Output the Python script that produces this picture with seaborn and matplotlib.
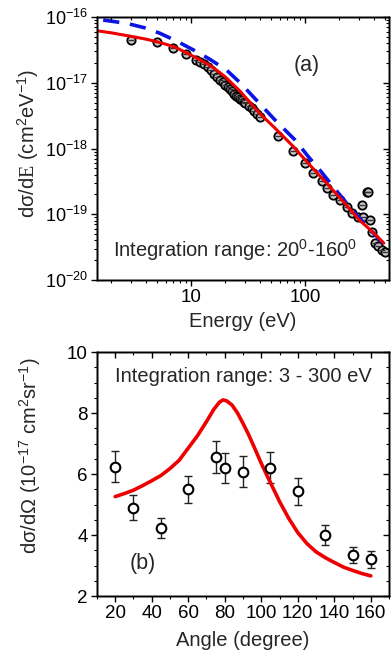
import numpy as np
import pandas as pd
import matplotlib
matplotlib.use("Agg")
import matplotlib.pyplot as plt
import matplotlib.ticker as mticker
import seaborn as sns

# ---------------- data: panel (a) ----------------
exp_energy = [3, 5, 7, 9, 11, 12, 13, 14, 15, 16, 17, 18, 19, 20, 21, 22, 23, 24, 25,
              26, 27, 28, 29, 30, 32, 34, 36, 38, 40, 58, 79, 100, 118, 140, 155, 177,
              203, 232, 257, 294, 314, 325, 348, 359, 371, 384, 411, 440, 471, 503]
exp_dsde = [4.47e-17, 4.12e-17, 3.34e-17, 2.71e-17, 2.22e-17, 2.04e-17, 1.91e-17, 1.74e-17,
            1.58e-17, 1.38e-17, 1.23e-17, 1.10e-17, 1.02e-17, 9.1e-18, 8.5e-18, 7.9e-18,
            7.4e-18, 6.8e-18, 6.3e-18, 6.0e-18, 5.75e-18, 5.4e-18, 5.1e-18, 4.9e-18,
            4.47e-18, 4.07e-18, 3.72e-18, 3.31e-18, 3.02e-18, 1.55e-18, 9.3e-19, 5.96e-19,
            4.17e-19, 3.16e-19, 2.48e-19, 1.95e-19, 1.66e-19, 1.30e-19, 1.04e-19, 9.1e-20,
            1.38e-19, 9.1e-20, 2.19e-19, 2.19e-19, 8.1e-20, 5.43e-20, 3.63e-20, 3.24e-20,
            2.88e-20, 2.69e-20]

red_energy = [1.5, 2.0, 2.9, 4.0, 5.0, 6.2, 7.5, 10.0, 12.0, 14.5, 17.0, 20.0, 27.0, 33.0,
              40.0, 56.0, 79.0, 110.0, 155.0, 220.0, 300.0, 400.0, 490.0]
red_dsde = [6.17e-17, 5.75e-17, 5.13e-17, 4.62e-17, 4.22e-17, 3.80e-17, 3.39e-17, 2.63e-17,
            2.24e-17, 1.86e-17, 1.53e-17, 1.23e-17, 7.41e-18, 5.01e-18, 3.43e-18, 1.95e-18,
            1.07e-18, 5.62e-19, 2.95e-19, 1.51e-19, 8.13e-20, 5.20e-20, 3.63e-20]

blue_energy = [1.7, 2.73, 4.0, 5.35, 7.5, 10.5, 14.5, 20.5, 27.0, 34.0, 54.6, 81.7, 107.0,
               135.0, 265.0, 501.0]
blue_dsde = [8.99e-17, 8.02e-17, 6.80e-17, 5.65e-17, 4.30e-17, 3.16e-17, 2.30e-17, 1.56e-17,
             1.00e-17, 6.52e-18, 2.71e-18, 1.35e-18, 7.5e-19, 4.68e-19, 1.10e-19, 3.39e-20]

# ---------------- data: panel (b) ----------------
exp_angle = [20, 30, 45, 60, 75, 80, 90, 105, 120, 135, 150, 160]
exp_dsdo = [6.24, 4.90, 4.22, 5.50, 6.55, 6.19, 6.08, 6.21, 5.44, 4.00, 3.34, 3.20]
exp_dsdo_err = [0.50, 0.40, 0.33, 0.44, 0.53, 0.49, 0.50, 0.50, 0.44, 0.33, 0.27, 0.27]

red_angle = [20, 25, 30, 35, 40, 45, 50, 55, 60, 65, 70, 74, 77, 79, 81, 84, 87, 90, 93,
             96, 100, 105, 110, 115, 120, 125, 130, 135, 140, 145, 150, 155, 160]
red_dsdo = [5.26, 5.36, 5.47, 5.62, 5.78, 5.95, 6.18, 6.45, 6.85, 7.25, 7.72, 8.12, 8.35,
            8.43, 8.40, 8.26, 8.00, 7.66, 7.30, 6.90, 6.35, 5.72, 5.10, 4.55, 4.08, 3.72,
            3.45, 3.26, 3.10, 2.95, 2.84, 2.74, 2.66]

df_exp_a = pd.DataFrame({"E": exp_energy, "y": exp_dsde})
df_red_a = pd.DataFrame({"E": red_energy, "y": red_dsde})
df_blue_a = pd.DataFrame({"E": blue_energy, "y": blue_dsde})
df_exp_b = pd.DataFrame({"ang": exp_angle, "y": exp_dsdo, "err": exp_dsdo_err})
df_red_b = pd.DataFrame({"ang": red_angle, "y": red_dsdo})

sns.set_theme(style="ticks")
plt.rcParams["font.family"] = ["Liberation Sans", "DejaVu Sans"]
plt.rcParams["mathtext.fontset"] = "custom"
plt.rcParams["mathtext.rm"] = "Liberation Sans"
plt.rcParams["mathtext.it"] = "Liberation Sans:italic"
plt.rcParams["mathtext.tt"] = "Liberation Serif"
plt.rcParams["axes.edgecolor"] = "black"
plt.rcParams["axes.linewidth"] = 1.0

LBL = 14.5
TCK = 13.5
TXT = 14.5

fig = plt.figure(figsize=(3.91, 6.57), dpi=100)
axa = fig.add_axes([0.248, 0.5738, 0.747, 0.4003])
axb = fig.add_axes([0.248, 0.0928, 0.747, 0.3714])

# ---------- panel (a) ----------
axa.set_xscale("log")
axa.set_yscale("log")
sns.scatterplot(data=df_exp_a, x="E", y="y", ax=axa, marker="o", s=36,
                facecolor="#c8c8c8", edgecolor="black", linewidth=1.3, zorder=2, legend=False)
sns.scatterplot(data=df_exp_a, x="E", y="y", ax=axa, marker="_", s=20,
                color="#333333", linewidth=1.0, zorder=2.1, legend=False)
sns.lineplot(data=df_blue_a, x="E", y="y", ax=axa, color="#0a14e6", linewidth=2.6,
             dashes=False, zorder=3, legend=False)
axa.lines[-1].set_dashes([4.5, 3])
sns.lineplot(data=df_red_a, x="E", y="y", ax=axa, color="#ee0000", linewidth=2.2,
             zorder=4, legend=False)
axa.set_xlim(1.5, 545)
axa.set_ylim(1e-20, 1e-16)
axa.xaxis.set_major_locator(mticker.LogLocator(base=10, numticks=10))
axa.xaxis.set_minor_locator(mticker.LogLocator(base=10, subs=np.arange(2, 10), numticks=10))
axa.xaxis.set_major_formatter(mticker.FuncFormatter(lambda v, p: f"{v:g}"))
axa.xaxis.set_minor_formatter(mticker.NullFormatter())
axa.yaxis.set_major_locator(mticker.LogLocator(base=10, numticks=10))
axa.yaxis.set_minor_locator(mticker.LogLocator(base=10, subs=np.arange(2, 10), numticks=10))
axa.set_xlabel("Energy (eV)", fontsize=LBL)
axa.set_ylabel("dσ/d$\\mathtt{E}$ (cm$^{2}$eV$^{-1}$)", fontsize=LBL)
axa.text(0.719, 0.817, "(a)", transform=axa.transAxes, ha="center", va="center", fontsize=15.5)
axa.text(0.473, 0.114, "Integration range: 20$^{0}$-160$^{0}$", transform=axa.transAxes,
         ha="center", va="center", fontsize=TXT)

# ---------- panel (b) ----------
axb.errorbar(exp_angle, exp_dsdo, yerr=exp_dsdo_err, fmt="none", ecolor="#222222",
             elinewidth=1.0, capsize=2.8, capthick=1.0, zorder=2)
sns.lineplot(data=df_red_b, x="ang", y="y", ax=axb, color="#ee0000", linewidth=2.6,
             zorder=3, legend=False)
sns.scatterplot(data=df_exp_b, x="ang", y="y", ax=axb, marker="o", s=48,
                facecolor="white", edgecolor="black", linewidth=1.5, zorder=4, legend=False)
axb.set_xlim(10, 170)
axb.set_ylim(2, 10)
axb.xaxis.set_major_locator(mticker.MultipleLocator(20))
axb.xaxis.set_minor_locator(mticker.MultipleLocator(10))
axb.yaxis.set_major_locator(mticker.MultipleLocator(2))
axb.yaxis.set_minor_locator(mticker.MultipleLocator(0.5))
axb.set_xlabel("Angle (degree)", fontsize=LBL)
axb.set_ylabel("dσ/dΩ (10$^{-17}$ cm$^{2}$sr$^{-1}$)", fontsize=LBL)
axb.text(0.5, 0.898, "Integration range: 3 - 300 eV", transform=axb.transAxes,
         ha="center", va="center", fontsize=TXT)
axb.text(0.158, 0.135, "(b)", transform=axb.transAxes, ha="center", va="center", fontsize=15.5)

for ax in (axa, axb):
    for s in ax.spines.values():
        s.set_visible(True)
        s.set_color("black")
        s.set_linewidth(1.0)
    ax.tick_params(which="both", direction="out", colors="black", labelsize=TCK,
                   top=False, right=False)
    ax.tick_params(which="major", length=4.5, width=1.0, pad=2)
    ax.tick_params(which="minor", length=2.5, width=0.8)
axa.tick_params(axis="y", labelsize=13)

# inward ticks on top and right via twin axes
for ax in (axa, axb):
    tx = ax.twiny()
    tx.set_xscale(ax.get_xscale())
    tx.set_xlim(ax.get_xlim())
    tx.xaxis.set_major_locator(ax.xaxis.get_major_locator())
    tx.xaxis.set_minor_locator(ax.xaxis.get_minor_locator())
    tx.tick_params(which="both", direction="in", labeltop=False, colors="black")
    tx.tick_params(which="major", length=4.5, width=1.0)
    tx.tick_params(which="minor", length=2.5, width=0.8)
    ty = ax.twinx()
    ty.set_yscale(ax.get_yscale())
    ty.set_ylim(ax.get_ylim())
    ty.yaxis.set_major_locator(ax.yaxis.get_major_locator())
    ty.yaxis.set_minor_locator(ax.yaxis.get_minor_locator())
    ty.tick_params(which="both", direction="in", labelright=False, colors="black")
    ty.tick_params(which="major", length=4.5, width=1.0)
    ty.tick_params(which="minor", length=2.5, width=0.8)

axa.yaxis.set_label_coords(-0.19, 0.52)
axb.yaxis.set_label_coords(-0.185, 0.575)
axa.xaxis.set_label_coords(0.5, -0.12)
axb.xaxis.set_label_coords(0.5, -0.145)

fig.savefig("out.png", dpi=100)
